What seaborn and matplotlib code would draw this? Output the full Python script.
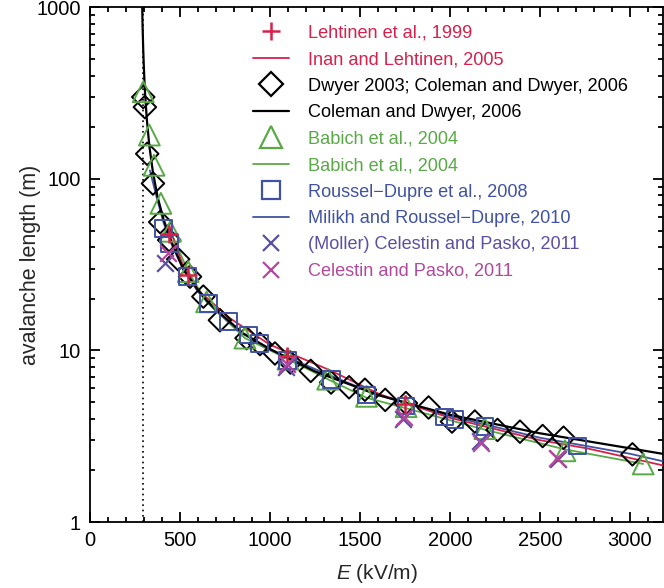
import numpy as np
import pandas as pd
import matplotlib
matplotlib.use("Agg")
import matplotlib.pyplot as plt
from matplotlib.lines import Line2D
from matplotlib.ticker import FixedLocator, FixedFormatter, MultipleLocator, LogLocator, NullFormatter
import seaborn as sns

# ---------------- data ----------------
threshold_E = 293

lehtinen_E = [440, 545, 1095, 1750]
lehtinen_L = [48, 27.5, 9.3, 4.85]

inan_E = [435, 460, 518, 600, 778, 1000, 1333, 1611, 2000, 2500, 2768, 3200]
inan_L = [54, 46, 31, 22.5, 15.4, 10.8, 7.67, 5.55, 4.05, 3.0, 2.68, 2.12]

dwyer_E = [296, 305, 318, 350, 390, 440, 490, 556, 630, 722, 870, 945, 1028, 1114,
           1227, 1340, 1440, 1528, 1641, 1756, 1882, 2012, 2139, 2265, 2390, 2516, 2632, 3015]
dwyer_L = [300, 262, 140, 94, 56, 44, 34, 26.9, 20.6, 15.0, 11.8, 10.9, 9.6, 8.5,
           7.6, 6.5, 6.1, 5.9, 5.15, 4.93, 4.65, 3.85, 3.85, 3.44, 3.36, 3.17, 3.1, 2.48]

coleman_E = [290, 292, 296, 300, 305, 315, 330, 350, 375, 410, 460, 520, 600, 650, 700, 850,
             1000, 1250, 1600, 2000, 2500, 3000, 3200]
coleman_L = [1050, 800, 560, 430, 330, 228, 155, 109, 79, 57.5, 41.2, 29.5, 22.5, 19.5, 17.3, 12.6,
             10.2, 7.55, 5.5, 4.22, 3.29, 2.69, 2.48]

babich_E = [296, 330, 356, 394, 447, 546, 648, 861, 1100, 1321, 1537, 1757, 2195, 2640, 3075]
babich_L = [322, 180, 120, 72, 49.5, 28.8, 19.2, 11.8, 8.9, 6.8, 5.4, 4.7, 3.5, 2.6, 2.18]

babich_line_E = [447, 546, 648, 861, 1100, 1321, 1537, 1757, 2195, 2640, 3075]
babich_line_L = [49.5, 28.8, 19.2, 11.8, 8.9, 6.8, 5.3, 4.6, 3.45, 2.65, 2.18]

roussel_E = [407, 441, 541, 657, 768, 880, 944, 1099, 1341, 1537, 1757, 1970, 2028, 2195, 2708]
roussel_L = [51.5, 42, 26.9, 18.8, 14.7, 12.3, 11.0, 8.75, 6.8, 5.5, 4.75, 4.1, 3.97, 3.6, 2.77]

milikh_E = [333, 350, 375, 410, 460, 520, 600, 700, 850, 1000, 1300, 1600, 2000, 2500, 3000, 3200]
milikh_L = [112, 95, 75, 55, 40, 29.5, 22, 17, 12.5, 10.1, 7.4, 5.5, 4.15, 3.1, 2.5, 2.24]

moller_E = [415, 1090, 1740, 2170, 2600]
moller_L = [32.5, 8.0, 4.0, 2.95, 2.33]

celestin_E = [433, 1095, 1745, 2175, 2595]
celestin_L = [37, 8.3, 4.1, 2.9, 2.36]

labels = ["Lehtinen et al., 1999", "Inan and Lehtinen, 2005",
          "Dwyer 2003; Coleman and Dwyer, 2006", "Coleman and Dwyer, 2006",
          "Babich et al., 2004", "Babich et al., 2004",
          "Roussel\u2212Dupre et al., 2008", "Milikh and Roussel\u2212Dupre, 2010",
          "(Moller) Celestin and Pasko, 2011", "Celestin and Pasko, 2011"]

x_ticks = [0, 500, 1000, 1500, 2000, 2500, 3000]
y_ticks = [1, 10, 100, 1000]
y_tick_labels = ["1", "10", "100", "1000"]

# ---------------- style ----------------
RED = "#d7204a"
BLACK = "#000000"
GREEN = "#5aa947"
BLUE = "#4052a3"
PURPLE = "#5e4ea3"
MAGENTA = "#b1489c"

sns.set_theme(style="ticks")
plt.rcParams["font.family"] = ["Liberation Sans", "DejaVu Sans"]
plt.rcParams["mathtext.fontset"] = "custom"
plt.rcParams["mathtext.it"] = "Liberation Sans:italic"
plt.rcParams["mathtext.rm"] = "Liberation Sans"

fig = plt.figure(figsize=(6.64, 5.88), dpi=100)
ax = fig.add_axes([90 / 664, 66 / 588, 573 / 664, 514.7 / 588])
ax.set_yscale("log")

# dotted threshold
ax.axvline(threshold_E, color="black", ls=(0, (1, 2.2)), lw=1.2, zorder=1)

def line(E, L, color, lw):
    sns.lineplot(x=E, y=L, ax=ax, color=color, lw=lw, sort=False,
                 estimator=None, legend=False, zorder=3)

def pts(E, L, marker, color, size, lw, filled=False):
    if filled:
        sns.scatterplot(x=E, y=L, ax=ax, marker=marker, color=color, s=size ** 2,
                        linewidth=lw, legend=False, zorder=4)
    else:
        sns.scatterplot(x=E, y=L, ax=ax, marker=marker, s=size ** 2,
                        facecolors="none", edgecolor=color, linewidth=lw,
                        legend=False, zorder=4)

pts(dwyer_E, dwyer_L, "D", BLACK, 11.5, 1.4)
pts(babich_E, babich_L, "^", GREEN, 15, 1.4)
pts(roussel_E, roussel_L, "s", BLUE, 12, 1.4)
line(babich_line_E, babich_line_L, GREEN, 1.3)
line(milikh_E, milikh_L, BLUE, 1.3)
line(inan_E, inan_L, RED, 1.3)
line(coleman_E, coleman_L, BLACK, 1.6)
pts(lehtinen_E, lehtinen_L, "+", RED, 13, 1.8, filled=True)
pts(moller_E, moller_L, "x", PURPLE, 12, 1.6, filled=True)
pts(celestin_E, celestin_L, "x", MAGENTA, 12, 1.6, filled=True)

ax.set_xlim(0, 3185)
ax.set_ylim(1, 1000)
ax.xaxis.set_major_locator(FixedLocator(x_ticks))
ax.xaxis.set_minor_locator(MultipleLocator(100))
ax.yaxis.set_major_locator(FixedLocator(y_ticks))
ax.yaxis.set_major_formatter(FixedFormatter(y_tick_labels))
ax.yaxis.set_minor_locator(LogLocator(base=10, subs=np.arange(2, 10)))
ax.yaxis.set_minor_formatter(NullFormatter())

ax.tick_params(which="both", direction="in", top=True, right=True, labelsize=14.5,
               colors="black", width=1.3)
ax.tick_params(which="major", length=7, pad=6.5)
ax.tick_params(which="minor", length=3.5)
for s in ax.spines.values():
    s.set_visible(True)
    s.set_linewidth(1.3)
    s.set_color("black")

ax.set_xlabel("$E$ (kV/m)", fontsize=15)
ax.set_ylabel("avalanche length (m)", fontsize=15.5)
ax.xaxis.set_label_coords(0.5, (522 - 562) / 514.7)
ax.yaxis.set_label_coords((41 - 90) / 573, 0.5)

handles = [
    Line2D([], [], ls="none", marker="+", color=RED, ms=13, mew=1.8),
    Line2D([], [], color=RED, lw=1.3),
    Line2D([], [], ls="none", marker="D", mfc="none", mec=BLACK, ms=12.5, mew=1.6),
    Line2D([], [], color=BLACK, lw=1.6),
    Line2D([], [], ls="none", marker="^", mfc="none", mec=GREEN, ms=16, mew=1.6),
    Line2D([], [], color=GREEN, lw=1.3),
    Line2D([], [], ls="none", marker="s", mfc="none", mec=BLUE, ms=13, mew=1.6),
    Line2D([], [], color=BLUE, lw=1.3),
    Line2D([], [], ls="none", marker="x", color=PURPLE, ms=12, mew=1.6),
    Line2D([], [], ls="none", marker="x", color=MAGENTA, ms=12, mew=1.6),
]
label_colors = [RED, RED, BLACK, BLACK, GREEN, GREEN, BLUE, BLUE, PURPLE, MAGENTA]
ax.legend(handles, labels, loc="upper left", bbox_to_anchor=(0.284, 0.966),
          frameon=False, fontsize=13.1, labelcolor=label_colors,
          handlelength=2.0, handletextpad=1.05, labelspacing=0.52, borderpad=0,
          borderaxespad=0)

fig.savefig("out.png", dpi=100)
